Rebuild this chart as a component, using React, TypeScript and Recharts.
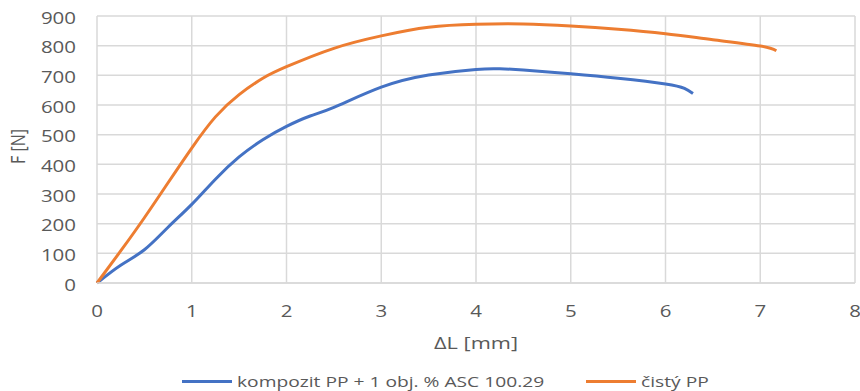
import { LineChart, Line, XAxis, YAxis, CartesianGrid, Label } from 'recharts';

// deformation ΔL [mm]
const compositeX = [0, 0.25, 0.5, 0.75, 1, 1.25, 1.5, 1.75, 2, 2.25, 2.5, 3, 3.5, 4, 4.25, 4.5, 5, 5.5, 6, 6.2, 6.29];
// force F [N]
const compositeF = [0, 60, 112, 188, 265, 350, 425, 483, 528, 563, 592, 660, 701, 720, 722, 718, 705, 690, 671, 656, 639];

const pureX = [0, 0.25, 0.5, 0.75, 1, 1.25, 1.5, 1.75, 2, 2.5, 3, 3.5, 4, 4.5, 5, 5.5, 6, 6.5, 7, 7.17];
const pureF = [0, 108, 220, 338, 455, 560, 635, 690, 729, 791, 833, 862, 872, 873, 866, 855, 840, 820, 799, 783];

const xTicks = [0, 1, 2, 3, 4, 5, 6, 7, 8];
const yTicks = [0, 100, 200, 300, 400, 500, 600, 700, 800, 900];

const compositeName = 'kompozit PP + 1 obj. % ASC 100.29';
const pureName = 'čistý PP';

const BLUE = '#4472C4';
const ORANGE = '#ED7D31';
const TEXT = '#595959';
const FONT = '"Open Sans", sans-serif';
const STRETCH = 1.28; // the source image is stretched sideways

const compositeData = compositeX.map((x, i) => ({ x, f: compositeF[i] }));
const pureData = pureX.map((x, i) => ({ x, f: pureF[i] }));

function XTick({ x, y, payload }: any) {
  return (
    <g transform={`translate(${x} ${y + 27}) scale(${STRETCH} 1)`}>
      <text x={0} y={0} textAnchor="middle" dominantBaseline="central" fill={TEXT} fontSize={16} fontFamily={FONT}>
        {payload.value}
      </text>
    </g>
  );
}

function YTick({ x, y, payload }: any) {
  return (
    <g transform={`translate(${x} ${y + 1}) scale(${STRETCH} 1)`}>
      <text x={0} y={0} textAnchor="end" dominantBaseline="central" fill={TEXT} fontSize={16} fontFamily={FONT}>
        {payload.value}
      </text>
    </g>
  );
}

function XTitle({ viewBox }: any) {
  const cx = viewBox.x + viewBox.width / 2;
  return (
    <g transform={`translate(${cx} ${viewBox.y + 59}) scale(${STRETCH} 1)`}>
      <text x={0} y={0} textAnchor="middle" dominantBaseline="central" fill={TEXT} fontSize={17} fontFamily={FONT}>
        ΔL [mm]
      </text>
    </g>
  );
}

function YTitle({ viewBox }: any) {
  const cy = viewBox.y + viewBox.height / 2 - 3;
  return (
    <g transform={`translate(17 ${cy}) rotate(-90) scale(1 ${STRETCH})`}>
      <text x={0} y={0} textAnchor="middle" dominantBaseline="central" fill={TEXT} fontSize={16} fontFamily={FONT}>
        F [N]
      </text>
    </g>
  );
}

function LegendItem({ name, color, left }: { name: string; color: string; left: number }) {
  return (
    <div style={{ position: 'absolute', left, top: 370, display: 'flex', alignItems: 'center', height: 22 }}>
      <span style={{ display: 'inline-block', width: 50, height: 3, background: color, marginRight: 5 }} />
      <span style={{ display: 'inline-block', whiteSpace: 'nowrap', fontFamily: FONT, fontSize: 15, color: TEXT, transform: `scaleX(${STRETCH})`, transformOrigin: 'left center' }}>
        {name}
      </span>
    </div>
  );
}

export default function App() {
  return (
    <div style={{ position: 'absolute', left: 0, top: 0, width: 860, height: 391, background: '#fff' }}>
      <LineChart width={860} height={391} margin={{ top: 16, right: 5, bottom: 38, left: 0 }}>
        <CartesianGrid stroke="#d9d9d9" strokeWidth={1.5} />
        <XAxis
          type="number"
          dataKey="x"
          domain={[0, 8]}
          ticks={xTicks}
          interval={0}
          tick={<XTick />}
          tickLine={false}
          tickSize={0}
          tickMargin={0}
          axisLine={{ stroke: '#d9d9d9', strokeWidth: 1.5 }}
          height={70}
        >
          <Label content={<XTitle />} />
        </XAxis>
        <YAxis
          type="number"
          domain={[0, 900]}
          ticks={yTicks}
          interval={0}
          tick={<YTick />}
          tickLine={false}
          tickSize={0}
          tickMargin={21}
          axisLine={false}
          width={97}
        >
          <Label content={<YTitle />} />
        </YAxis>
        <Line data={compositeData} dataKey="f" name={compositeName} type="natural" stroke={BLUE} strokeWidth={3} dot={false} isAnimationActive={false} />
        <Line data={pureData} dataKey="f" name={pureName} type="natural" stroke={ORANGE} strokeWidth={3} dot={false} isAnimationActive={false} />
      </LineChart>
      <LegendItem name={compositeName} color={BLUE} left={182} />
      <LegendItem name={pureName} color={ORANGE} left={586} />
    </div>
  );
}
